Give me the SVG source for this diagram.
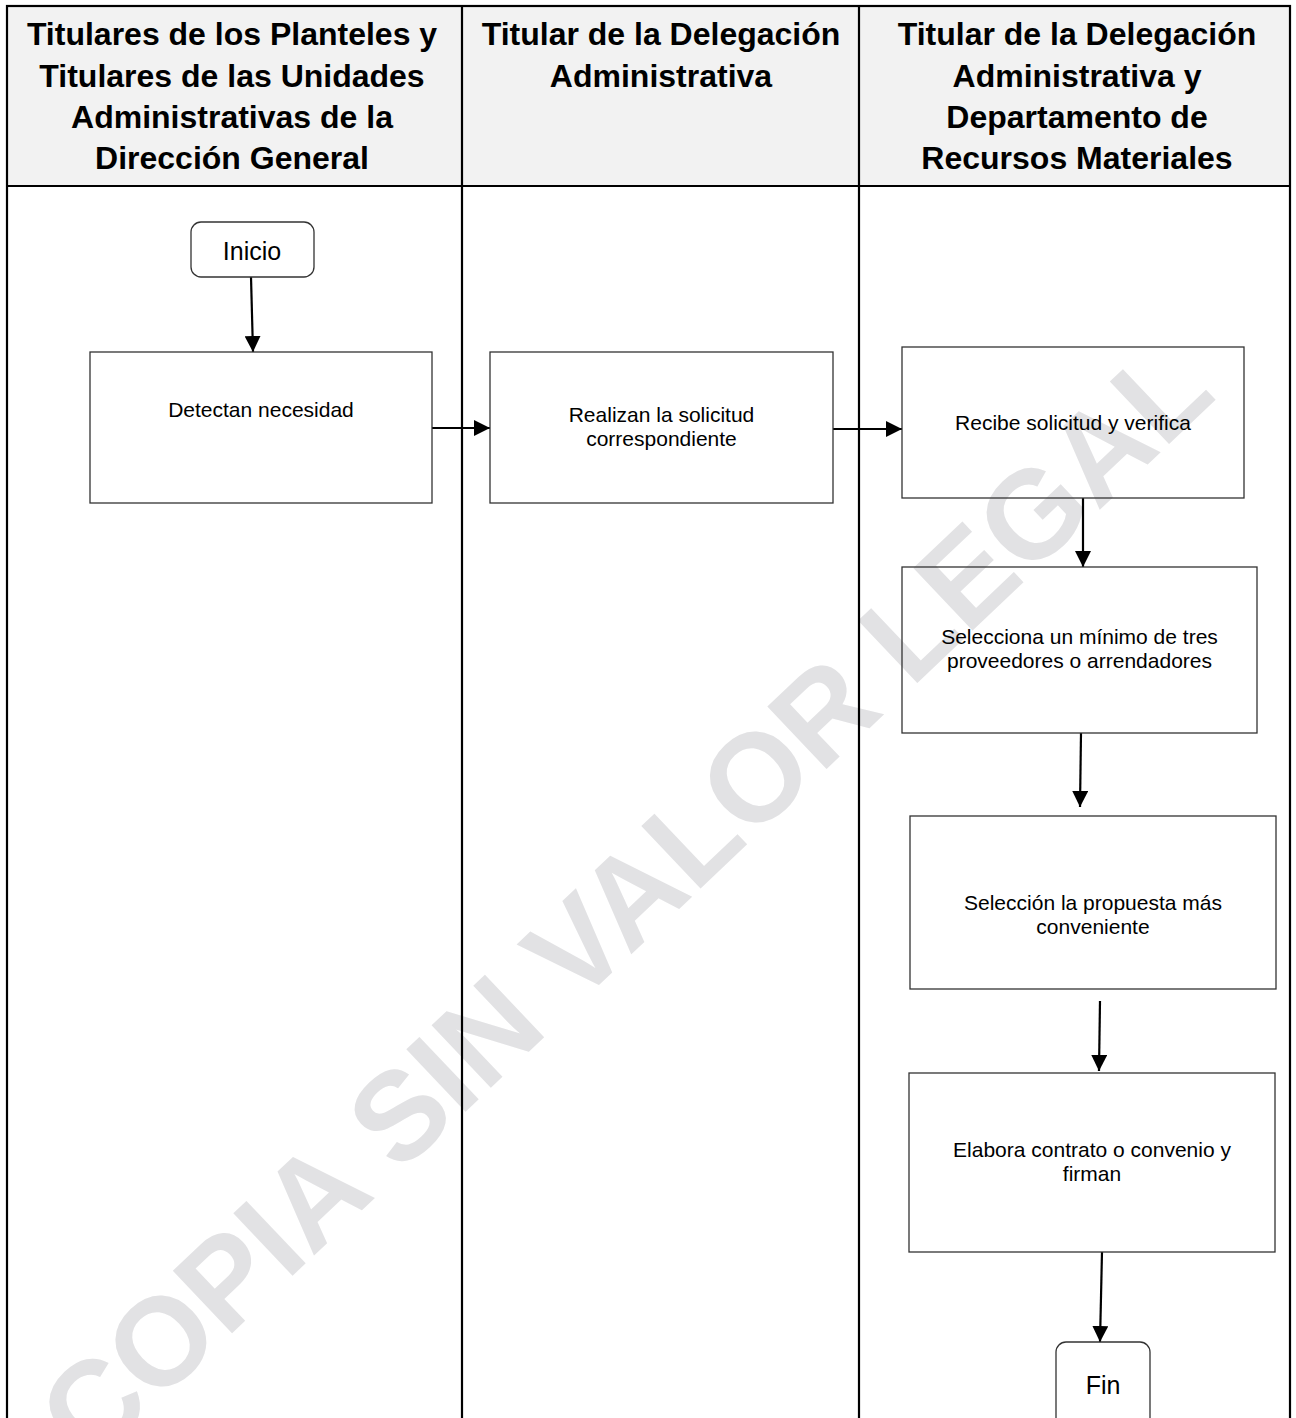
<svg xmlns="http://www.w3.org/2000/svg" width="1296" height="1418" viewBox="0 0 1296 1418">
  <style>
    .hdr { font-family: "Liberation Sans", Arial, sans-serif; font-weight: bold; font-size: 32px; fill: #000; text-anchor: middle; }
    .txt { font-family: "Liberation Sans", Arial, sans-serif; font-size: 21px; fill: #000; text-anchor: middle; }
    .term { font-family: "Liberation Sans", Arial, sans-serif; font-size: 25px; fill: #000; text-anchor: middle; }
    .box { fill: none; stroke: #333; stroke-width: 1.3; }
    .grid { stroke: #000; stroke-width: 2.2; fill: none; }
    .conn { stroke: #000; stroke-width: 2.2; fill: none; marker-end: url(#arrow); }
    .wm { font-family: "Liberation Sans", Arial, sans-serif; font-weight: bold; font-size: 125px; fill: #e2e2e4; }
  </style>
  <defs>
    <marker id="arrow" markerUnits="userSpaceOnUse" viewBox="0 0 16 16" refX="16" refY="8" markerWidth="16" markerHeight="16" orient="auto">
      <path d="M0,0 L16,8 L0,16 z" fill="#000"/>
    </marker>
  </defs>
  <rect x="0" y="0" width="1296" height="1418" fill="#fff"/>
  <rect x="7" y="6" width="1283" height="180" fill="#f2f2f2"/>

  <text class="wm" transform="translate(90,1468) rotate(-43.5)">COPIA SIN VALOR LEGAL</text>

  <g id="table">
    <rect class="grid" x="7" y="6" width="1283" height="1430"/>
    <line class="grid" x1="7" y1="186" x2="1290" y2="186"/>
    <line class="grid" x1="462" y1="6" x2="462" y2="1430"/>
    <line class="grid" x1="859" y1="6" x2="859" y2="1430"/>
  </g>

  <g id="lane-headers">
    <text class="hdr" x="232" y="45">Titulares de los Planteles y</text>
    <text class="hdr" x="232" y="87">Titulares de las Unidades</text>
    <text class="hdr" x="232" y="128">Administrativas de la</text>
    <text class="hdr" x="232" y="169">Dirección General</text>
    <text class="hdr" x="661" y="45">Titular de la Delegación</text>
    <text class="hdr" x="661" y="87">Administrativa</text>
    <text class="hdr" x="1077" y="45">Titular de la Delegación</text>
    <text class="hdr" x="1077" y="87">Administrativa y</text>
    <text class="hdr" x="1077" y="128">Departamento de</text>
    <text class="hdr" x="1077" y="169">Recursos Materiales</text>
  </g>

  <g id="connectors">
    <line class="conn" x1="251" y1="277" x2="253" y2="352"/>
    <line class="conn" x1="432" y1="428" x2="490" y2="428"/>
    <line class="conn" x1="833" y1="429" x2="902" y2="429"/>
    <line class="conn" x1="1083" y1="498" x2="1083" y2="567"/>
    <line class="conn" x1="1081" y1="733" x2="1080" y2="807"/>
    <line class="conn" x1="1100" y1="1001" x2="1099" y2="1071"/>
    <line class="conn" x1="1102" y1="1252" x2="1100" y2="1342"/>
  </g>

  <g id="inicio">
    <rect class="box" x="191" y="222" width="123" height="55" rx="10"/>
    <text class="term" x="252" y="260">Inicio</text>
  </g>
  <g id="detectan">
    <rect class="box" x="90" y="352" width="342" height="151"/>
    <text class="txt" x="261" y="417">Detectan necesidad</text>
  </g>
  <g id="realizan">
    <rect class="box" x="490" y="352" width="343" height="151"/>
    <text class="txt" x="661.5" y="422">Realizan la solicitud</text>
    <text class="txt" x="661.5" y="446">correspondiente</text>
  </g>
  <g id="recibe">
    <rect class="box" x="902" y="347" width="342" height="151"/>
    <text class="txt" x="1073" y="430">Recibe solicitud y verifica</text>
  </g>
  <g id="selecciona">
    <rect class="box" x="902" y="567" width="355" height="166"/>
    <text class="txt" x="1079.5" y="644">Selecciona un mínimo de tres</text>
    <text class="txt" x="1079.5" y="668">proveedores o arrendadores</text>
  </g>
  <g id="seleccion">
    <rect class="box" x="910" y="816" width="366" height="173"/>
    <text class="txt" x="1093" y="910">Selección la propuesta más</text>
    <text class="txt" x="1093" y="934">conveniente</text>
  </g>
  <g id="elabora">
    <rect class="box" x="909" y="1073" width="366" height="179"/>
    <text class="txt" x="1092" y="1157">Elabora contrato o convenio y</text>
    <text class="txt" x="1092" y="1181">firman</text>
  </g>
  <g id="fin">
    <rect class="box" x="1056" y="1342" width="94" height="90" rx="10"/>
    <text class="term" x="1103" y="1394">Fin</text>
  </g>
</svg>
